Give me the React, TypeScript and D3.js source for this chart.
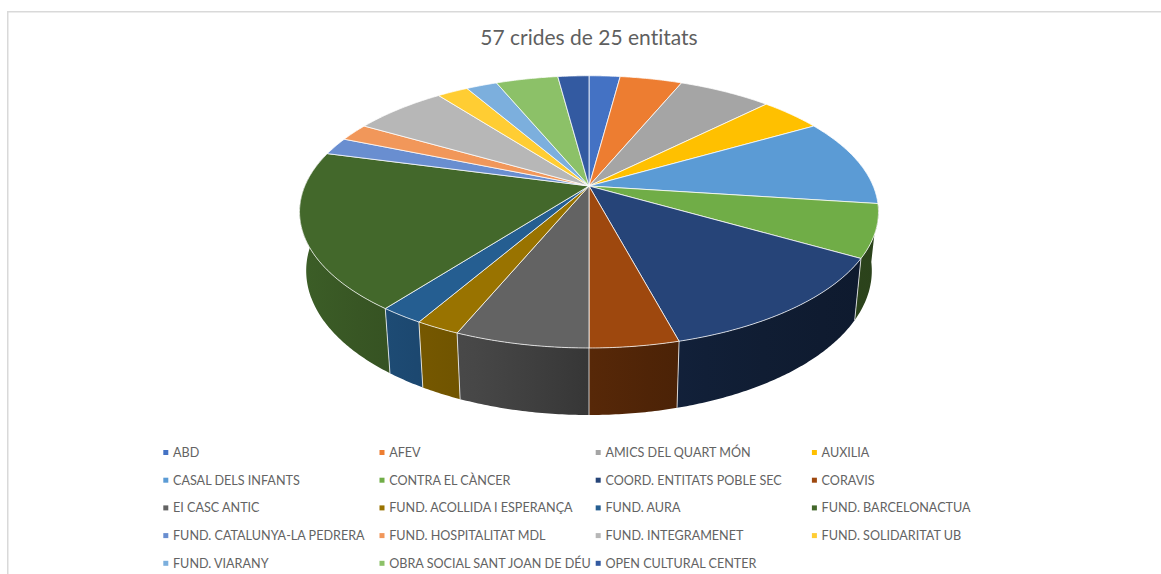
import React from "react";
import * as d3 from "d3";

const title = "57 crides de 25 entitats";
const categories = [
  "ABD", "AFEV", "AMICS DEL QUART MÓN", "AUXILIA",
  "CASAL DELS INFANTS", "CONTRA EL CÀNCER", "COORD. ENTITATS POBLE SEC", "CORAVIS",
  "EI CASC ANTIC", "FUND. ACOLLIDA I ESPERANÇA", "FUND. AURA", "FUND. BARCELONACTUA",
  "FUND. CATALUNYA-LA PEDRERA", "FUND. HOSPITALITAT MDL", "FUND. INTEGRAMENET", "FUND. SOLIDARITAT UB",
  "FUND. VIARANY", "OBRA SOCIAL SANT JOAN DE DÉU", "OPEN CULTURAL CENTER",
];
const values = [1, 2, 3, 2, 5, 3, 6, 2, 3, 1, 1, 9, 1, 1, 3, 1, 1, 2, 1];
const colors = [
  "#4472C4", "#ED7D31", "#A5A5A5", "#FFC000",
  "#5B9BD5", "#70AD47", "#264478", "#9E480E",
  "#636363", "#997300", "#255E91", "#43682B",
  "#698ED0", "#F1975A", "#B7B7B7", "#FFCD33",
  "#7CAFDD", "#8CC168", "#335AA1",
];

const W = 1161;
const H = 574;
const cx = 589;
const cy = 186;
const a = 284.2;
const b = 131.2;
const k = 0.19;
const shrink = 0.977;
const wallBaseY = 243.3;
const wallScaleY = 1.06;

// perspective projection of the disc rim
const top = (t: number): [number, number] => {
  const w = 1 + k * Math.cos(t);
  return [cx + (a * Math.sin(t)) / w, cy - (b * Math.cos(t)) / w];
};
const bottom = (t: number): [number, number] => {
  const w = 1 + k * Math.cos(t);
  return [cx + (shrink * a * Math.sin(t)) / w, wallBaseY - (wallScaleY * b * Math.cos(t)) / w];
};

const line = d3.line();
const pie = d3.pie<number>().sort(null).startAngle(0).endAngle(2 * Math.PI);
const arcs = pie(values);

const sample = (t0: number, t1: number) => {
  const n = Math.max(2, Math.ceil((t1 - t0) / 0.01));
  return d3.range(n + 1).map((i) => t0 + ((t1 - t0) * i) / n);
};

const wallMin = (97.5 * Math.PI) / 180;
const wallMax = (285 * Math.PI) / 180;
const eps = 1e-6;

const shade = d3.scaleLinear<number>()
  .domain([300, 400, 460, 589, 680, 860])
  .range([0.9, 0.78, 0.74, 0.55, 0.47, 0.38])
  .clamp(true);
const gradX = d3.range(0, 11).map((i) => 300 + i * 58);

const legendX = d3.scaleLinear().domain([0, 1]).range([173, 389.2]);
const legendY = d3.scaleLinear().domain([0, 1]).range([452.5, 480.2]);

export default function App() {
  const walls = arcs
    .map((d, i) => ({ d, i, t0: Math.max(d.startAngle, wallMin), t1: Math.min(d.endAngle, wallMax) }))
    .filter((s) => s.t1 > s.t0 + eps);
  const order = [...walls].sort(
    (p, q) => Math.abs((q.t0 + q.t1) / 2 - Math.PI) - Math.abs((p.t0 + p.t1) / 2 - Math.PI)
  );
  const seams = arcs
    .map((d) => d.startAngle)
    .filter((t) => t > wallMin + 0.01 && t < wallMax - 0.01);

  return (
    <svg
      width={W}
      height={H}
      viewBox={`0 0 ${W} ${H}`}
      style={{ position: "absolute", left: 0, top: 0, display: "block", background: "#fff" }}
    >
      <defs>
        {walls.map((s) => (
          <linearGradient
            key={s.i}
            id={`wall${s.i}`}
            gradientUnits="userSpaceOnUse"
            x1={300}
            x2={880}
            y1={0}
            y2={0}
          >
            {gradX.map((x) => {
              const c = d3.rgb(colors[s.i]);
              const f = shade(x);
              return (
                <stop
                  key={x}
                  offset={(x - 300) / 580}
                  stopColor={d3.rgb(c.r * f, c.g * f, c.b * f).formatHex()}
                />
              );
            })}
          </linearGradient>
        ))}
      </defs>

      <path d={`M1161 11.75H7.75V574`} fill="none" stroke="#d9d9d9" strokeWidth={1.5} />

      <text
        x={589}
        y={45}
        textAnchor="middle"
        fontFamily="Lato, sans-serif"
        fontSize={21}
        fill="#5f5f5f"
        style={{ fontVariantLigatures: "none" }}
      >
        {title}
      </text>

      {order.map((s) => {
        const ts = sample(s.t0, s.t1);
        const pts = [...ts.map(top), ...[...ts].reverse().map(bottom)];
        return <path key={s.i} d={line(pts) + "Z"} fill={`url(#wall${s.i})`} />;
      })}
      {seams.map((t) => (
        <path key={t} d={line([top(t), bottom(t)]) || ""} stroke="#fff" strokeOpacity={0.75} strokeWidth={1} fill="none" />
      ))}

      {arcs.map((d, i) => {
        const pts: [number, number][] = [[cx, cy], ...sample(d.startAngle, d.endAngle).map(top)];
        return (
          <path
            key={i}
            d={line(pts) + "Z"}
            fill={colors[i]}
            stroke="#fff"
            strokeOpacity={0.75}
            strokeWidth={1}
            strokeLinejoin="round"
          />
        );
      })}

      {categories.map((name, i) => {
        const col = i % 4;
        const row = Math.floor(i / 4);
        const x = legendX(col);
        const y = legendY(row);
        return (
          <g key={name}>
            <rect x={x - 9.7} y={y - 2.5} width={5} height={5} fill={colors[i]} />
            <text
              x={x}
              y={y + 4.5}
              fontFamily="Lato, sans-serif"
              fontSize={12.6}
              fill="#636363"
              style={{ fontVariantLigatures: "none" }}
            >
              {name}
            </text>
          </g>
        );
      })}
    </svg>
  );
}
